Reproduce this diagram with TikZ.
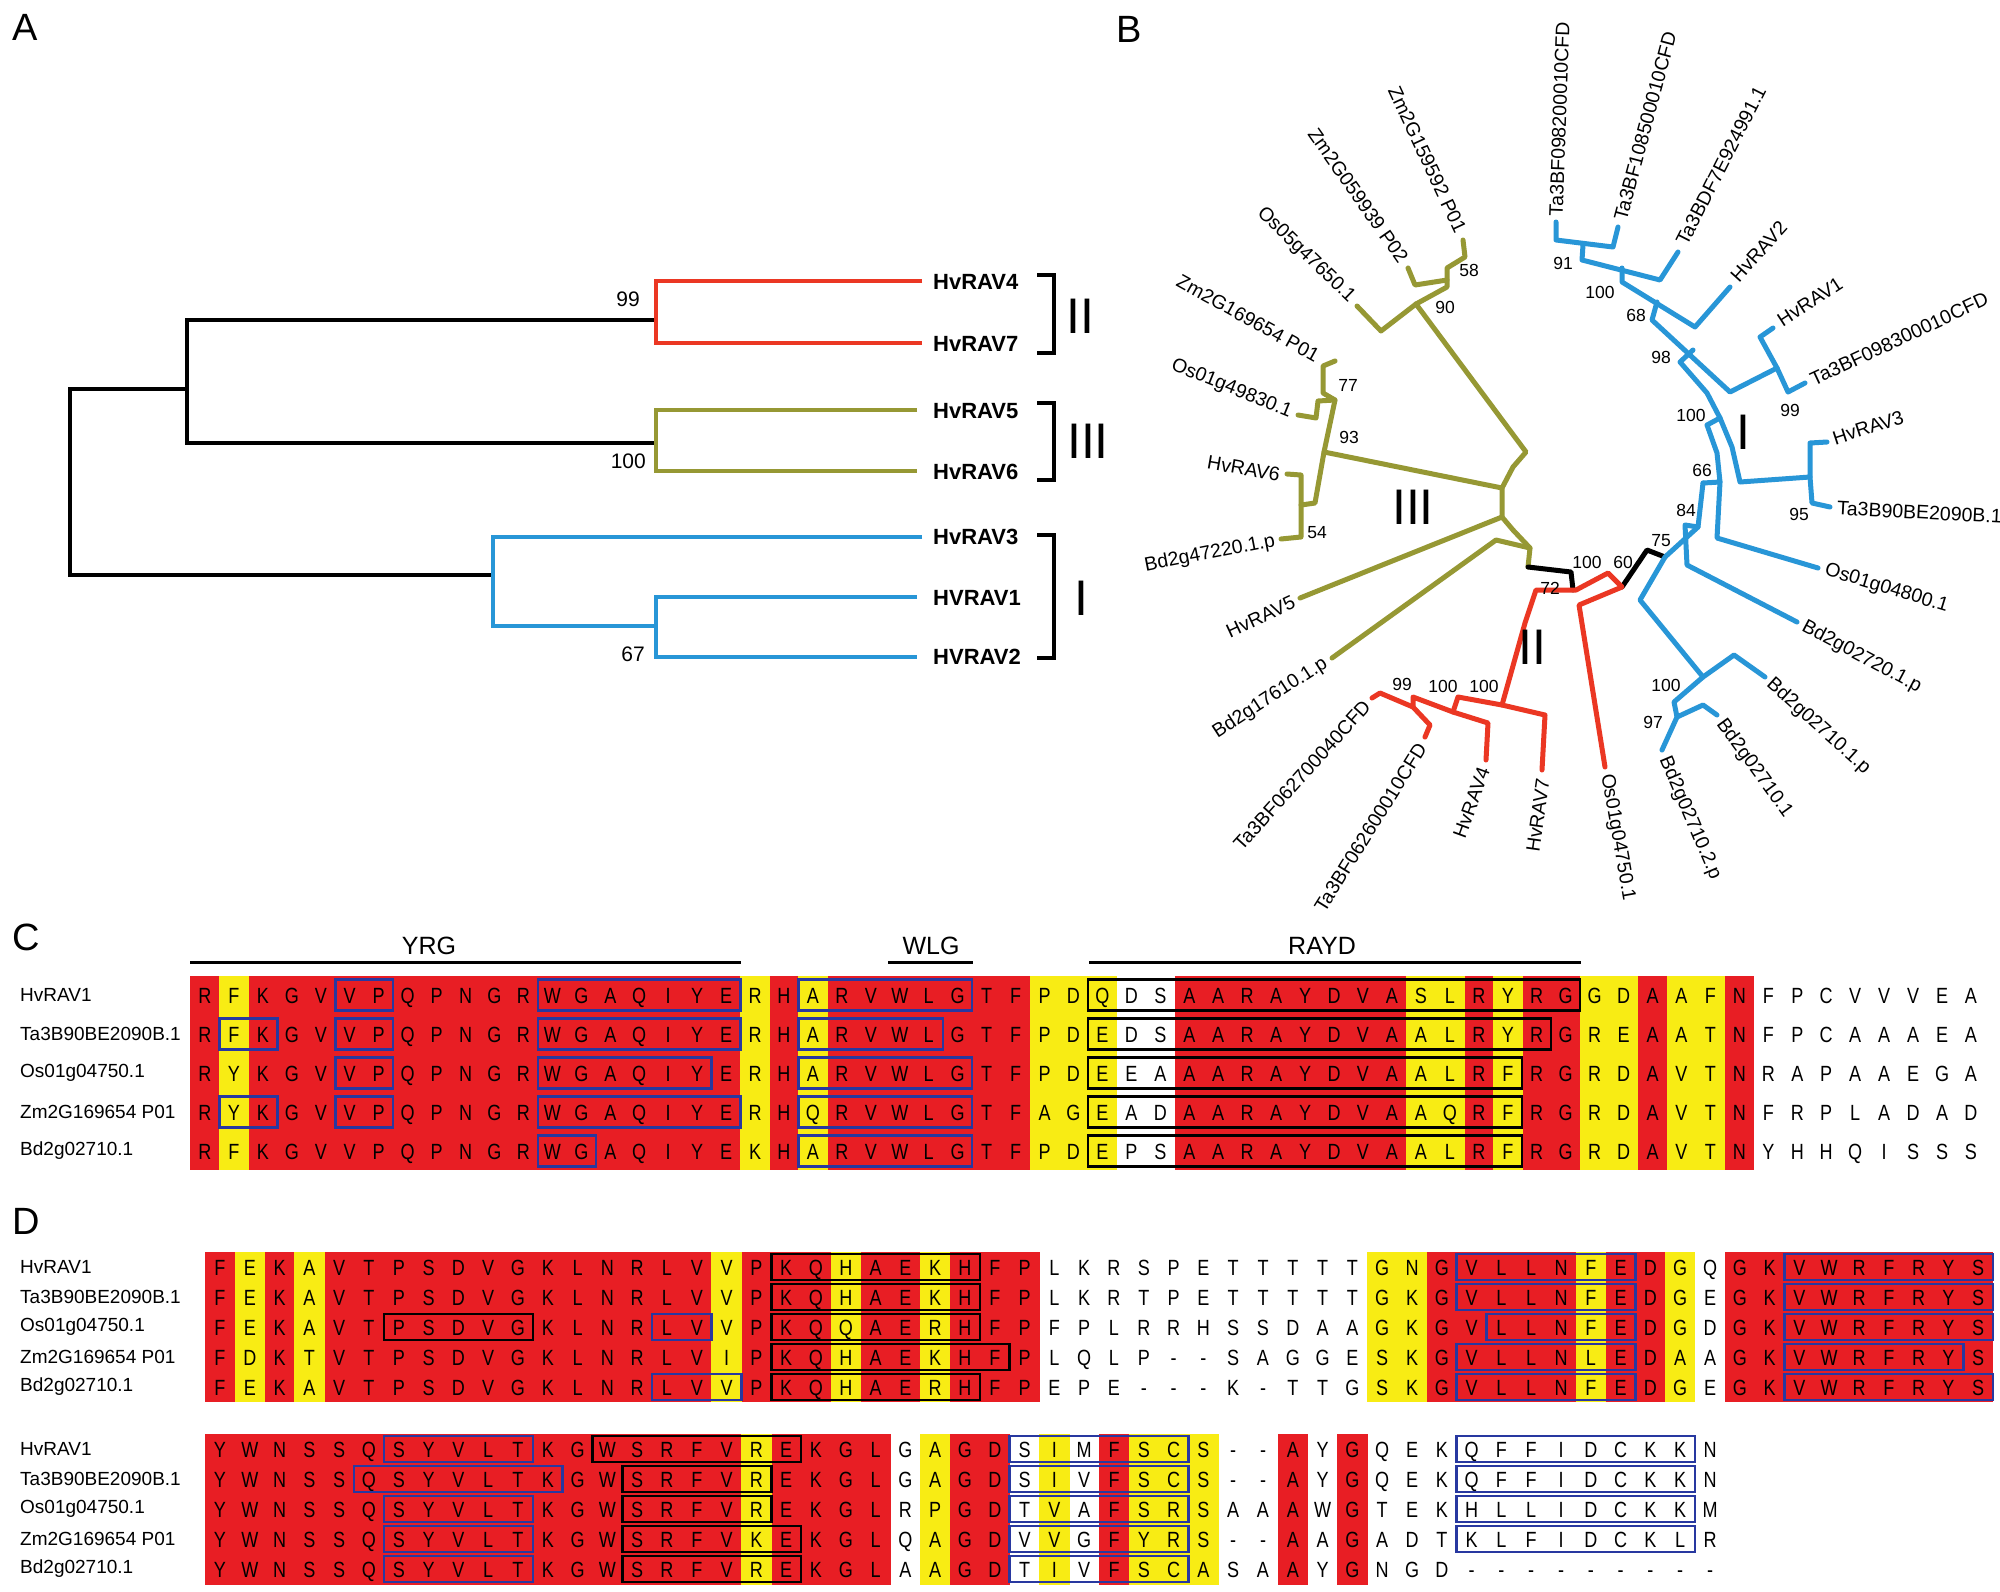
\documentclass[tikz,border=0pt]{standalone}
\usepackage{fontspec}
\setmainfont{Liberation Sans}
\newfontfamily\resfont[FakeStretch=0.82]{Liberation Sans}
\definecolor{alred}{RGB}{232,30,36}
\definecolor{alyel}{RGB}{248,236,20}
\definecolor{bxblue}{RGB}{40,56,160}
\definecolor{tred}{RGB}{235,55,35}
\definecolor{tolive}{RGB}{150,152,52}
\definecolor{tblue}{RGB}{40,150,215}
\tikzset{
 res/.style={font=\resfont\fontsize{22}{22}\selectfont, anchor=base, inner sep=0pt},
 nm/.style={font=\fontsize{19}{19}\selectfont, anchor=west, inner sep=0pt},
 blb/.style={draw=bxblue, line width=2.5pt},
 bkb/.style={draw=black, line width=2.5pt},
 panel/.style={font=\fontsize{38}{38}\selectfont, inner sep=0pt},
 ta/.style={line width=4pt, line join=miter},
 leafA/.style={font=\bfseries\fontsize{22}{22}\selectfont, anchor=west, inner sep=0pt},
 bsA/.style={font=\fontsize{21}{21}\selectfont, anchor=east, inner sep=0pt},
 tb/.style={line width=5pt, line join=round, line cap=round},
 lb/.style={font=\fontsize{19.5}{19.5}\selectfont, inner sep=0pt},
 bs/.style={font=\fontsize{17.5}{17.5}\selectfont, inner sep=0pt},
 rom/.style={font=\fontsize{50}{50}\selectfont, inner sep=0pt},
 hdr/.style={font=\fontsize{25}{25}\selectfont, inner sep=0pt},
 hline/.style={line width=3pt},
}
\newcommand\myfill[3]{\fill[#1] ({\xz+#2*\dd-\hw-0.3},\yt) rectangle ({\xz+#3*\dd+\hw+0.3},\yb);}
\newcommand\mybox[4]{\draw[#1] ({\xz+#2*\dd-\hw},{#4-\hh}) rectangle ({\xz+#3*\dd+\hw},{#4+\hh});}
\newcommand\myrow[3]{\foreach \ch [count=\k from 0] in {#3} {\node[res] (#1-\k) at ({\xz+\k*\dd},{#2+8}) {\ch};}}
\begin{document}
\begin{tikzpicture}[x=1pt,y=-1pt]
\fill[white] (0,0) rectangle (2000,1591);
\useasboundingbox (0,0) rectangle (2000,1591);

% ---------------- Panel labels
\node[panel] (pA) at (25,27) {A};
\node[panel] (pB) at (1129,29) {B};
\node[panel] (pC) at (26,937) {C};
\node[panel] (pD) at (26,1221) {D};

% ---------------- Panel A tree
\draw[ta,black] (187,389) -- (70,389) -- (70,575) -- (493,575);
\draw[ta,black] (656,320) -- (187,320) -- (187,443) -- (656,443);
\draw[ta,tred] (922,281) -- (656,281) -- (656,343) -- (922,343);
\draw[ta,tolive] (917,410) -- (656,410) -- (656,471) -- (917,471);
\draw[ta,tblue] (922,537) -- (493,537) -- (493,626) -- (656,626);
\draw[ta,tblue] (917,597) -- (656,597) -- (656,657) -- (917,657);
\node[bsA] (a99) at (640,299) {99};
\node[bsA] (a100) at (646,461) {100};
\node[bsA] (a67) at (645,654) {67};
\node[leafA] (aH4) at (933,282) {HvRAV4};
\node[leafA] (aH7) at (933,344) {HvRAV7};
\node[leafA] (aH5) at (933,411) {HvRAV5};
\node[leafA] (aH6) at (933,472) {HvRAV6};
\node[leafA] (aH3) at (933,537) {HvRAV3};
\node[leafA] (aH1) at (933,598) {HVRAV1};
\node[leafA] (aH2) at (933,657) {HVRAV2};
\draw[ta,black] (1037,275) -- (1054,275) -- (1054,353) -- (1037,353);
\draw[ta,black] (1037,403) -- (1054,403) -- (1054,480) -- (1037,480);
\draw[ta,black] (1037,535) -- (1054,535) -- (1054,658) -- (1037,658);
\node[rom] (aII) at (1080,316) {II};
\node[rom] (aIII) at (1088,441) {III};
\node[rom] (aI) at (1081,598) {I};

% ---------------- Panel B tree
\begin{scope}[tb]
% olive clade
\draw[tolive] (1528,567) -- (1530,548) -- (1513,530) -- (1502,517) -- (1502,488) -- (1513,467) -- (1526,452) -- (1416,304);
\draw[tolive] (1530,548) -- (1496,540) -- (1332,658);
\draw[tolive] (1502,517) -- (1300,598);
\draw[tolive] (1502,488) -- (1324,452) -- (1335,400) -- (1323,393) -- (1323,366) -- (1335,361);
\draw[tolive] (1335,400) -- (1318,401) -- (1316,418) -- (1298,415);
\draw[tolive] (1324,452) -- (1315,503) -- (1301,505) -- (1301,475) -- (1287,474);
\draw[tolive] (1301,505) -- (1301,537) -- (1281,539);
\draw[tolive] (1416,304) -- (1381,331) -- (1357,306);
\draw[tolive] (1416,304) -- (1447,287) -- (1447,268) -- (1465,257) -- (1463,240);
\draw[tolive] (1447,280) -- (1415,285) -- (1408,268);
% black stems
\draw[black] (1528,567) -- (1571,572) -- (1573,590);
\draw[black] (1622,587) -- (1647,550) -- (1665,557);
% red clade
\draw[tred] (1502,705) -- (1525,623) -- (1536,590) -- (1576,590) -- (1608,573) -- (1622,587) -- (1579,605) -- (1605,767);
\draw[tred] (1372,698) -- (1380,693) -- (1413,707) -- (1430,725) -- (1425,737);
\draw[tred] (1413,707) -- (1413,697) -- (1453,712) -- (1488,723) -- (1486,760);
\draw[tred] (1453,712) -- (1458,697) -- (1502,705) -- (1545,715) -- (1542,770);
% blue clade
\draw[tblue] (1556,222) -- (1556,240) -- (1613,247) -- (1618,227);
\draw[tblue] (1583,245) -- (1582,260) -- (1660,280) -- (1678,252);
\draw[tblue] (1622,268) -- (1622,282) -- (1695,327) -- (1730,287);
\draw[tblue] (1657,302) -- (1652,320) -- (1730,392) -- (1777,368) -- (1760,337) -- (1773,328);
\draw[tblue] (1777,368) -- (1788,392) -- (1805,383);
\draw[tblue] (1693,350) -- (1680,362) -- (1707,393) -- (1720,418) -- (1707,425) -- (1717,453) -- (1720,482) -- (1703,483);
\draw[tblue] (1720,418) -- (1732,447) -- (1740,482) -- (1810,477) -- (1810,443) -- (1827,442);
\draw[tblue] (1810,477) -- (1812,503) -- (1830,507);
\draw[tblue] (1720,482) -- (1717,538) -- (1818,568);
\draw[tblue] (1703,483) -- (1698,527) -- (1685,525) -- (1687,565) -- (1797,622);
\draw[tblue] (1698,527) -- (1665,557) -- (1640,600) -- (1703,677) -- (1734,655) -- (1765,677);
\draw[tblue] (1703,677) -- (1674,702) -- (1677,717) -- (1703,705) -- (1717,715);
\draw[tblue] (1677,717) -- (1662,750);
\end{scope}
% B leaf labels
\node[lb,anchor=west,rotate=88] (lT1) at (1556,216) {Ta3BF098200010CFD};
\node[lb,anchor=west,rotate=75] (lT2) at (1620,220) {Ta3BF108500010CFD};
\node[lb,anchor=west,rotate=63] (lT3) at (1681,244) {Ta3BDF7E924991.1};
\node[lb,anchor=west,rotate=48] (lH2) at (1734,279) {HvRAV2};
\node[lb,anchor=west,rotate=33] (lH1) at (1779,322) {HvRAV1};
\node[lb,anchor=west,rotate=25] (lT4) at (1811,380) {Ta3BF098300010CFD};
\node[lb,anchor=west,rotate=18] (lH3) at (1833,439) {HvRAV3};
\node[lb,anchor=west,rotate=-3] (lT5) at (1837,508) {Ta3B90BE2090B.1};
\node[lb,anchor=west,rotate=-17] (lO1) at (1825,570) {Os01g04800.1};
\node[lb,anchor=west,rotate=-28] (lB1) at (1803,626) {Bd2g02720.1.p};
\node[lb,anchor=west,rotate=-42] (lB2) at (1769,682) {Bd2g02710.1.p};
\node[lb,anchor=west,rotate=-54] (lB3) at (1720,721) {Bd2g02710.1};
\node[lb,anchor=west,rotate=-67] (lB4) at (1664,757) {Bd2g02710.2.p};
\node[lb,anchor=west,rotate=-80] (lO2) at (1606,774) {Os01g04750.1};
\node[lb,anchor=east,rotate=82] (lH7) at (1543,779) {HvRAV7};
\node[lb,anchor=east,rotate=70] (lH4) at (1484,768) {HvRAV4};
\node[lb,anchor=east,rotate=58] (lT6) at (1422,745) {Ta3BF062600010CFD};
\node[lb,anchor=east,rotate=48] (lT7) at (1367,703) {Ta3BF062700040CFD};
\node[lb,anchor=east,rotate=33] (lB5) at (1326,662) {Bd2g17610.1.p};
\node[lb,anchor=east,rotate=25] (lH5) at (1294,601) {HvRAV5};
\node[lb,anchor=east,rotate=11] (lB6) at (1275,541) {Bd2g47220.1.p};
\node[lb,anchor=east,rotate=-10] (lH6) at (1280,475) {HvRAV6};
\node[lb,anchor=east,rotate=-22] (lO3) at (1291,413) {Os01g49830.1};
\node[lb,anchor=east,rotate=-29] (lZ1) at (1318,357) {Zm2G169654 P01};
\node[lb,anchor=east,rotate=-44] (lO4) at (1352,300) {Os05g47650.1};
\node[lb,anchor=east,rotate=-55] (lZ2) at (1404,261) {Zm2G059939 P02};
\node[lb,anchor=east,rotate=-65] (lZ3) at (1461,232) {Zm2G159592 P01};
% B bootstrap values
\node[bs] (b1) at (1469,270) {58};
\node[bs] (b2) at (1445,307) {90};
\node[bs] (b3) at (1348,385) {77};
\node[bs] (b4) at (1349,437) {93};
\node[bs] (b5) at (1317,533) {54};
\node[bs] (b6) at (1563,263) {91};
\node[bs] (b7) at (1600,292) {100};
\node[bs] (b8) at (1636,315) {68};
\node[bs] (b9) at (1661,357) {98};
\node[bs] (b10) at (1790,410) {99};
\node[bs] (b11) at (1691,415) {100};
\node[bs] (b12) at (1702,470) {66};
\node[bs] (b13) at (1799,514) {95};
\node[bs] (b14) at (1686,510) {84};
\node[bs] (b15) at (1661,541) {75};
\node[bs] (b16) at (1623,562) {60};
\node[bs] (b17) at (1587,562) {100};
\node[bs] (b18) at (1550,588) {72};
\node[bs] (b19) at (1402,684) {99};
\node[bs] (b20) at (1443,686) {100};
\node[bs] (b21) at (1484,686) {100};
\node[bs] (b22) at (1666,685) {100};
\node[bs] (b23) at (1653,722) {97};
\node[rom] (bIII) at (1413,507) {III};
\node[rom] (bII) at (1532,647) {II};
\node[rom] (bI) at (1743,432) {I};

% ---------------- Panel C
\def\xz{205}\def\dd{28.95}\def\hw{14.475}\def\hh{15.5}
\def\yt{976}\def\yb{1170}
\draw[hline] (190,962) -- (741,962);
\draw[hline] (888,962) -- (973,962);
\draw[hline] (1089,962) -- (1581,962);
\node[hdr] (hY) at (429,946) {YRG};
\node[hdr] (hW) at (931,946) {WLG};
\node[hdr] (hR) at (1322,946) {RAYD};
\myfill{alred}{0}{53}
\myfill{alyel}{1}{1}\myfill{alyel}{19}{19}\myfill{alyel}{21}{21}
\myfill{alyel}{29}{31}\myfill{white}{32}{33}\myfill{alyel}{42}{43}
\myfill{alyel}{45}{45}\myfill{alyel}{48}{49}\myfill{alyel}{51}{52}
\node[nm] (cn1) at (20,995) {HvRAV1};
\node[nm] (cn2) at (20,1034) {Ta3B90BE2090B.1};
\node[nm] (cn3) at (20,1073) {Os01g04750.1};
\node[nm] (cn4) at (20,1112) {Zm2G169654 P01};
\node[nm] (cn5) at (20,1151) {Bd2g02710.1};
\myrow{ca}{995}{R,F,K,G,V,V,P,Q,P,N,G,R,W,G,A,Q,I,Y,E,R,H,A,R,V,W,L,G,T,F,P,D,Q,D,S,A,A,R,A,Y,D,V,A,S,L,R,Y,R,G,G,D,A,A,F,N,F,P,C,V,V,V,E,A}
\myrow{cb}{1034}{R,F,K,G,V,V,P,Q,P,N,G,R,W,G,A,Q,I,Y,E,R,H,A,R,V,W,L,G,T,F,P,D,E,D,S,A,A,R,A,Y,D,V,A,A,L,R,Y,R,G,R,E,A,A,T,N,F,P,C,A,A,A,E,A}
\myrow{cc}{1073}{R,Y,K,G,V,V,P,Q,P,N,G,R,W,G,A,Q,I,Y,E,R,H,A,R,V,W,L,G,T,F,P,D,E,E,A,A,A,R,A,Y,D,V,A,A,L,R,F,R,G,R,D,A,V,T,N,R,A,P,A,A,E,G,A}
\myrow{cd}{1112}{R,Y,K,G,V,V,P,Q,P,N,G,R,W,G,A,Q,I,Y,E,R,H,Q,R,V,W,L,G,T,F,A,G,E,A,D,A,A,R,A,Y,D,V,A,A,Q,R,F,R,G,R,D,A,V,T,N,F,R,P,L,A,D,A,D}
\myrow{ce}{1151}{R,F,K,G,V,V,P,Q,P,N,G,R,W,G,A,Q,I,Y,E,K,H,A,R,V,W,L,G,T,F,P,D,E,P,S,A,A,R,A,Y,D,V,A,A,L,R,F,R,G,R,D,A,V,T,N,Y,H,H,Q,I,S,S,S}
\mybox{blb}{5}{6}{995}\mybox{blb}{12}{18}{995}\mybox{blb}{21}{26}{995}\mybox{bkb}{31}{47}{995}
\mybox{blb}{1}{2}{1034}\mybox{blb}{5}{6}{1034}\mybox{blb}{12}{18}{1034}\mybox{blb}{21}{25}{1034}\mybox{bkb}{31}{46}{1034}
\mybox{blb}{5}{6}{1073}\mybox{blb}{12}{17}{1073}\mybox{blb}{21}{26}{1073}\mybox{bkb}{31}{45}{1073}
\mybox{blb}{1}{2}{1112}\mybox{blb}{5}{6}{1112}\mybox{blb}{12}{18}{1112}\mybox{blb}{21}{26}{1112}\mybox{bkb}{31}{45}{1112}
\mybox{blb}{12}{13}{1151}\mybox{blb}{21}{26}{1151}\mybox{bkb}{31}{45}{1151}

% ---------------- Panel D block 1
\def\xz{220}\def\dd{29.8}\def\hw{14.9}\def\hh{13}
\def\yt{1252}\def\yb{1402}
\myfill{alred}{0}{27}
\myfill{alyel}{1}{1}\myfill{alyel}{3}{3}\myfill{alyel}{17}{17}\myfill{alyel}{21}{21}\myfill{alyel}{24}{24}
\myfill{alyel}{39}{40}\myfill{alred}{41}{48}\myfill{alyel}{46}{46}\myfill{alyel}{49}{49}\myfill{alred}{51}{59}
\node[nm] (dn1) at (20,1267) {HvRAV1};
\node[nm] (dn2) at (20,1297) {Ta3B90BE2090B.1};
\node[nm] (dn3) at (20,1327) {Os01g04750.1};
\node[nm] (dn4) at (20,1357) {Zm2G169654 P01};
\node[nm] (dn5) at (20,1387) {Bd2g02710.1};
\myrow{da}{1267}{F,E,K,A,V,T,P,S,D,V,G,K,L,N,R,L,V,V,P,K,Q,H,A,E,K,H,F,P,L,K,R,S,P,E,T,T,T,T,T,G,N,G,V,L,L,N,F,E,D,G,Q,G,K,V,W,R,F,R,Y,S}
\myrow{db}{1297}{F,E,K,A,V,T,P,S,D,V,G,K,L,N,R,L,V,V,P,K,Q,H,A,E,K,H,F,P,L,K,R,T,P,E,T,T,T,T,T,G,K,G,V,L,L,N,F,E,D,G,E,G,K,V,W,R,F,R,Y,S}
\myrow{dc}{1327}{F,E,K,A,V,T,P,S,D,V,G,K,L,N,R,L,V,V,P,K,Q,Q,A,E,R,H,F,P,F,P,L,R,R,H,S,S,D,A,A,G,K,G,V,L,L,N,F,E,D,G,D,G,K,V,W,R,F,R,Y,S}
\myrow{dd}{1357}{F,D,K,T,V,T,P,S,D,V,G,K,L,N,R,L,V,I,P,K,Q,H,A,E,K,H,F,P,L,Q,L,P,-,-,S,A,G,G,E,S,K,G,V,L,L,N,L,E,D,A,A,G,K,V,W,R,F,R,Y,S}
\myrow{de}{1387}{F,E,K,A,V,T,P,S,D,V,G,K,L,N,R,L,V,V,P,K,Q,H,A,E,R,H,F,P,E,P,E,-,-,-,K,-,T,T,G,S,K,G,V,L,L,N,F,E,D,G,E,G,K,V,W,R,F,R,Y,S}
\mybox{bkb}{19}{25}{1267}\mybox{blb}{42}{47}{1267}\mybox{blb}{53}{59}{1267}
\mybox{bkb}{19}{25}{1297}\mybox{blb}{42}{47}{1297}\mybox{blb}{53}{59}{1297}
\mybox{bkb}{6}{10}{1327}\mybox{blb}{15}{16}{1327}\mybox{bkb}{19}{25}{1327}\mybox{blb}{43}{47}{1327}\mybox{blb}{53}{59}{1327}
\mybox{bkb}{19}{26}{1357}\mybox{blb}{42}{47}{1357}\mybox{blb}{53}{58}{1357}
\mybox{blb}{15}{17}{1387}\mybox{bkb}{19}{25}{1387}\mybox{blb}{42}{47}{1387}\mybox{blb}{53}{59}{1387}

% ---------------- Panel D block 2
\def\yt{1434}\def\yb{1585}
\myfill{alred}{0}{22}\myfill{alyel}{18}{18}\myfill{alyel}{24}{24}\myfill{alred}{25}{26}
\myfill{alyel}{28}{28}\myfill{alred}{30}{30}\myfill{alyel}{31}{33}\myfill{alred}{36}{36}\myfill{alred}{38}{38}
\node[nm] (en1) at (20,1449) {HvRAV1};
\node[nm] (en2) at (20,1479) {Ta3B90BE2090B.1};
\node[nm] (en3) at (20,1509) {Os01g04750.1};
\node[nm] (en4) at (20,1539) {Zm2G169654 P01};
\node[nm] (en5) at (20,1569) {Bd2g02710.1};
\myrow{ea}{1449}{Y,W,N,S,S,Q,S,Y,V,L,T,K,G,W,S,R,F,V,R,E,K,G,L,G,A,G,D,S,I,M,F,S,C,S,-,-,A,Y,G,Q,E,K,Q,F,F,I,D,C,K,K,N}
\myrow{eb}{1479}{Y,W,N,S,S,Q,S,Y,V,L,T,K,G,W,S,R,F,V,R,E,K,G,L,G,A,G,D,S,I,V,F,S,C,S,-,-,A,Y,G,Q,E,K,Q,F,F,I,D,C,K,K,N}
\myrow{ec}{1509}{Y,W,N,S,S,Q,S,Y,V,L,T,K,G,W,S,R,F,V,R,E,K,G,L,R,P,G,D,T,V,A,F,S,R,S,A,A,A,W,G,T,E,K,H,L,L,I,D,C,K,K,M}
\myrow{ed}{1539}{Y,W,N,S,S,Q,S,Y,V,L,T,K,G,W,S,R,F,V,K,E,K,G,L,Q,A,G,D,V,V,G,F,Y,R,S,-,-,A,A,G,A,D,T,K,L,F,I,D,C,K,L,R}
\myrow{ee}{1569}{Y,W,N,S,S,Q,S,Y,V,L,T,K,G,W,S,R,F,V,R,E,K,G,L,A,A,G,D,T,I,V,F,S,C,A,S,A,A,Y,G,N,G,D,-,-,-,-,-,-,-,-,-}
\mybox{blb}{6}{10}{1449}\mybox{bkb}{13}{19}{1449}\mybox{blb}{27}{32}{1449}\mybox{blb}{42}{49}{1449}
\mybox{blb}{5}{11}{1479}\mybox{bkb}{14}{18}{1479}\mybox{blb}{27}{32}{1479}\mybox{blb}{42}{49}{1479}
\mybox{blb}{6}{10}{1509}\mybox{bkb}{14}{18}{1509}\mybox{blb}{27}{32}{1509}\mybox{blb}{42}{49}{1509}
\mybox{blb}{6}{10}{1539}\mybox{bkb}{14}{19}{1539}\mybox{blb}{27}{32}{1539}\mybox{blb}{42}{49}{1539}
\mybox{blb}{6}{10}{1569}\mybox{bkb}{14}{19}{1569}\mybox{blb}{27}{32}{1569}
\end{tikzpicture}
\end{document}
